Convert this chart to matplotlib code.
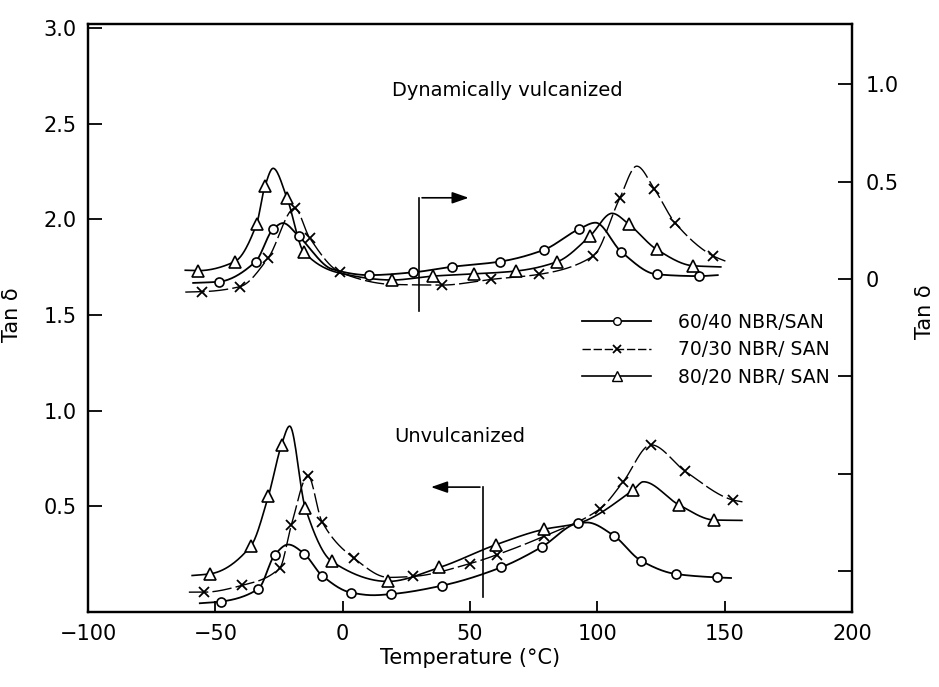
import numpy as np
import matplotlib
matplotlib.use("Agg")
import matplotlib.pyplot as plt
from matplotlib.lines import Line2D

# ---------------- data ----------------
# Unvulcanized blends (left axis, tan delta)
uv6040_T = [-47.7, -33.1, -26.6, -15.2, -8.1, 3.2, 19.1, 39.0, 62.3, 78.3, 92.4, 106.4, 117.1, 130.8, 147.0]
uv6040_tan = [0.002, 0.068, 0.247, 0.253, 0.138, 0.049, 0.041, 0.085, 0.181, 0.288, 0.411, 0.347, 0.216, 0.146, 0.128]
uv6040_path_T = [-56.1, -21.4, 12.0, 96.0, 152.5]
uv6040_path_tan = [-0.007, 0.300, 0.035, 0.415, 0.125]

uv7030_T = [-54.3, -39.6, -24.7, -20.1, -13.6, -8.1, 4.3, 27.5, 50.0, 60.7, 79.2, 101.2, 110.0, 121.1, 134.5, 153.4]
uv7030_tan = [0.051, 0.086, 0.177, 0.404, 0.659, 0.419, 0.230, 0.133, 0.200, 0.247, 0.344, 0.488, 0.625, 0.821, 0.683, 0.532]
uv7030_path_T = [-60.4, 18.0, 157.0]
uv7030_path_tan = [0.051, 0.128, 0.523]

uv8020_T = [-51.9, -36.1, -29.2, -24.0, -14.7, -4.3, 17.8, 38.0, 60.4, 78.9, 114.2, 132.1, 146.0]
uv8020_tan = [0.147, 0.291, 0.551, 0.821, 0.493, 0.212, 0.107, 0.180, 0.300, 0.379, 0.586, 0.507, 0.428]
uv8020_path_T = [-59.1, -20.8, 92.4, 118.1, 156.8]
uv8020_path_tan = [0.138, 0.919, 0.411, 0.628, 0.426]

# Dynamically vulcanized blends (right axis, tan delta)
dv6040_T = [-48.7, -34.2, -27.3, -17.3, 10.4, 27.5, 43.1, 61.6, 78.9, 92.8, 109.4, 123.3, 139.8]
dv6040_tan = [-0.014, 0.089, 0.256, 0.220, 0.020, 0.034, 0.063, 0.089, 0.149, 0.256, 0.140, 0.024, 0.015]
dv6040_path_T = [-58.7, -23.4, -4.0, 99.3, 147.3]
dv6040_path_tan = [-0.020, 0.287, 0.050, 0.289, 0.020]

dv7030_T = [-55.2, -40.3, -29.2, -18.8, -13.0, -0.9, 39.2, 58.1, 77.2, 98.4, 108.8, 122.4, 130.5, 145.4]
dv7030_tan = [-0.065, -0.039, 0.109, 0.363, 0.212, 0.034, -0.031, -0.002, 0.024, 0.118, 0.414, 0.462, 0.289, 0.119]
dv7030_path_T = [-61.8, 20.0, 115.5, 150.3]
dv7030_path_tan = [-0.067, -0.028, 0.579, 0.092]

dv8020_T = [-56.7, -42.4, -33.8, -30.5, -21.8, -15.3, 19.5, 35.3, 51.6, 68.1, 84.3, 97.1, 112.3, 123.3, 137.6]
dv8020_tan = [0.043, 0.089, 0.282, 0.477, 0.414, 0.140, -0.005, 0.015, 0.026, 0.041, 0.089, 0.220, 0.282, 0.152, 0.068]
dv8020_path_T = [-61.8, -27.3, -1.0, 105.8, 148.5]
dv8020_path_tan = [0.045, 0.568, 0.030, 0.337, 0.062]

legend_labels = ["60/40 NBR/SAN", "70/30 NBR/ SAN", "80/20 NBR/ SAN"]
left_ticks = [0.5, 1.0, 1.5, 2.0, 2.5, 3.0]
right_ticks = [-1.5, -1.0, -0.5, 0.0, 0.5, 1.0]
right_ticklabels = ["", "", "", "0", "0.5", "1.0"]
x_ticks = [-100, -50, 0, 50, 100, 150, 200]

DASHED = (0, (14, 3))


def pchip(x, y, xs):
    """Shape-preserving piecewise cubic Hermite curve through (x, y)."""
    x = np.asarray(x, float)
    y = np.asarray(y, float)
    h = np.diff(x)
    delta = np.diff(y) / h
    n = len(x)
    d = np.zeros(n)
    for k in range(1, n - 1):
        if delta[k - 1] * delta[k] > 0:
            w1 = 2 * h[k] + h[k - 1]
            w2 = h[k] + 2 * h[k - 1]
            d[k] = (w1 + w2) / (w1 / delta[k - 1] + w2 / delta[k])
    d[0] = delta[0]
    d[-1] = delta[-1]
    idx = np.clip(np.searchsorted(x, xs) - 1, 0, n - 2)
    t = (xs - x[idx]) / h[idx]
    h00 = 2 * t**3 - 3 * t**2 + 1
    h10 = t**3 - 2 * t**2 + t
    h01 = -2 * t**3 + 3 * t**2
    h11 = t**3 - t**2
    return (h00 * y[idx] + h10 * h[idx] * d[idx]
            + h01 * y[idx + 1] + h11 * h[idx] * d[idx + 1])


def draw_series(axis, T, tan, pT, ptan, marker, ls, ms, lw):
    xs_all = np.array(list(T) + list(pT))
    ys_all = np.array(list(tan) + list(ptan))
    order = np.argsort(xs_all)
    xs_all, ys_all = xs_all[order], ys_all[order]
    fine = np.linspace(xs_all[0], xs_all[-1], 600)
    axis.plot(fine, pchip(xs_all, ys_all, fine), color="black", lw=lw, ls=ls,
              zorder=2)
    if marker == "x":
        axis.plot(T, tan, ls="none", marker="x", ms=ms, mew=1.3,
                  color="black", zorder=3)
    else:
        axis.plot(T, tan, ls="none", marker=marker, ms=ms, mew=1.2,
                  mfc="white", mec="black", zorder=3)


plt.rcParams["font.family"] = ["DejaVu Sans"]
fig = plt.figure(figsize=(9.39, 6.87), dpi=100)
ax = fig.add_axes([0.0937, 0.1092, 0.8136, 0.8558])
ax2 = ax.twinx()

ax.set_xlim(-100, 200)
ax.set_ylim(-0.0526, 3.02)
ax2.set_ylim(-1.708, 1.308)

styles = [("o", "-", 6.5, 1.3), ("x", DASHED, 6.5, 1.0), ("^", "-", 8.5, 1.2)]

for (T, tan, pT, ptan), st in zip(
        [(uv6040_T, uv6040_tan, uv6040_path_T, uv6040_path_tan),
         (uv7030_T, uv7030_tan, uv7030_path_T, uv7030_path_tan),
         (uv8020_T, uv8020_tan, uv8020_path_T, uv8020_path_tan)], styles):
    draw_series(ax, T, tan, pT, ptan, *st)

for (T, tan, pT, ptan), st in zip(
        [(dv6040_T, dv6040_tan, dv6040_path_T, dv6040_path_tan),
         (dv7030_T, dv7030_tan, dv7030_path_T, dv7030_path_tan),
         (dv8020_T, dv8020_tan, dv8020_path_T, dv8020_path_tan)], styles):
    draw_series(ax2, T, tan, pT, ptan, *st)

# axes styling
for a in (ax, ax2):
    for s in a.spines.values():
        s.set_linewidth(1.6)
ax.set_xticks(x_ticks)
ax.set_yticks(left_ticks)
ax.set_yticklabels([f"{v:.1f}" for v in left_ticks])
ax.tick_params(axis="x", direction="in", length=8, width=1.3, pad=9, labelsize=15)
ax.tick_params(axis="y", direction="in", length=10, width=1.3, pad=8, labelsize=15)
ax2.set_yticks(right_ticks)
ax2.set_yticklabels(right_ticklabels)
ax2.tick_params(axis="y", direction="in", length=10, width=1.3, pad=10, labelsize=15)

ax.set_xlabel("Temperature (°C)", fontsize=15)
ax.xaxis.set_label_coords(0.5, -0.062)
ax.set_ylabel("Tan δ", fontsize=15)
ax.yaxis.set_label_coords(-0.086, 0.505)
ax2.set_ylabel("Tan δ", fontsize=15)
ax2.yaxis.set_label_coords(1.082, 0.51)

# annotations
ax.text(64.8, 2.674, "Dynamically vulcanized", fontsize=14, ha="center", va="center")
ax.text(46.1, 0.863, "Unvulcanized", fontsize=14, ha="center", va="center")

arrow_kw = dict(arrowstyle="-|>,head_length=1.0,head_width=0.35", color="black", lw=1.2)
ax.plot([30.1, 30.1], [1.52, 2.112], color="black", lw=1.2)
ax.annotate("", xy=(50.6, 2.112), xytext=(30.1, 2.112), arrowprops=arrow_kw)
ax.plot([55.0, 55.0], [0.026, 0.60], color="black", lw=1.2)
ax.annotate("", xy=(33.6, 0.60), xytext=(55.0, 0.60), arrowprops=arrow_kw)

# legend
handles = [
    Line2D([], [], color="black", lw=1.3, ls="-", marker="o", ms=5.5, mfc="white", mec="black"),
    Line2D([], [], color="black", lw=1.0, ls=(0, (6, 2)), marker="x", ms=5.5, mew=1.3),
    Line2D([], [], color="black", lw=1.2, ls="-", marker="^", ms=7, mfc="white", mec="black"),
]
fig.legend(handles, legend_labels, loc="upper left",
           bbox_to_anchor=(582 / 939, 1 - 313 / 687), frameon=False,
           fontsize=13.5, handlelength=3.7, handletextpad=1.4,
           labelspacing=0.45, borderpad=0, borderaxespad=0, numpoints=1)

fig.savefig("out.png", dpi=100)
